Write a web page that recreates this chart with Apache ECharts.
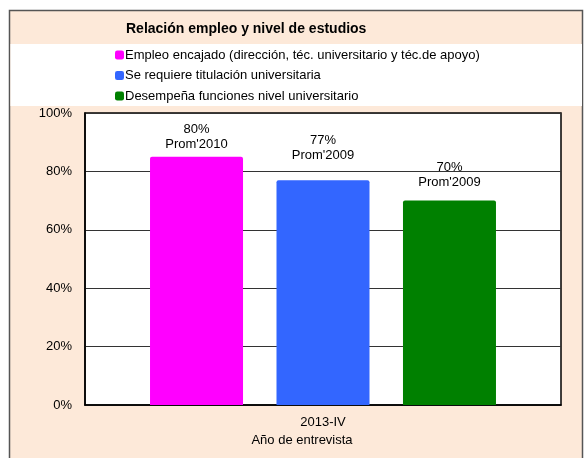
<!DOCTYPE html>
<html>
<head>
<meta charset="utf-8">
<script src="https://cdn.jsdelivr.net/npm/echarts@6/dist/echarts.min.js"></script>
<style>
  html, body { margin: 0; padding: 0; background: #fff; }
  #chart { width: 584px; height: 458px; }
</style>
</head>
<body>
<div id="chart"></div>
<script>
// datos
var categories = ['2013-IV'];
var seriesNames = [
  'Empleo encajado (dirección, téc. universitario y téc.de apoyo)',
  'Se requiere titulación universitaria',
  'Desempeña funciones nivel universitario'
];
var seriesValues = [85, 77, 70];
var barLabels = ['80%\nProm\'2010', '77%\nProm\'2009', '70%\nProm\'2009'];
var labelDistance = [5, 17, 11];
var colors = ['#FF00FF', '#3366FF', '#008000'];
var yTicks = [0, 20, 40, 60, 80, 100];

var peach = '#FDE9D9';
var myChart = echarts.init(document.getElementById('chart'));

var series = seriesNames.map(function (name, i) {
  return {
    name: name,
    type: 'bar',
    barWidth: 93,
    barGap: '36%',
    itemStyle: { color: colors[i], borderRadius: [2, 2, 0, 0] },
    label: {
      show: true,
      position: 'top',
      distance: labelDistance[i],
      formatter: barLabels[i],
      color: '#000',
      fontFamily: 'Liberation Sans',
      fontSize: 13,
      lineHeight: 15
    },
    data: [seriesValues[i]]
  };
});

var option = {
  backgroundColor: '#fff',
  animation: false,
  textStyle: { fontFamily: 'Liberation Sans' },
  graphic: [
    {
      type: 'rect',
      z: -10,
      shape: { x: 9.5, y: 10.5, width: 573, height: 460 },
      style: { fill: peach, stroke: '#555', lineWidth: 1.5 }
    },
    {
      type: 'rect',
      z: -9,
      shape: { x: 10.5, y: 44, width: 571.5, height: 62 },
      style: { fill: '#fff' }
    }
  ],
  title: {
    text: 'Relación empleo y nivel de estudios',
    left: 121,
    top: 17,
    textStyle: { fontSize: 14, fontWeight: 'bold', color: '#000', fontFamily: 'Liberation Sans' }
  },
  legend: {
    orient: 'vertical',
    left: 110,
    top: 43,
    itemWidth: 9,
    itemHeight: 9,
    itemGap: 6.5,
    icon: 'roundRect',
    textStyle: { fontSize: 13, lineHeight: 14, color: '#000', padding: [0, 0, 0, -4] },
    selectedMode: false
  },
  grid: {
    left: 85,
    right: 23,
    top: 113,
    bottom: 53,
    show: true,
    backgroundColor: '#fff',
    borderColor: '#000',
    borderWidth: 1.5,
    containLabel: false
  },
  xAxis: {
    type: 'category',
    data: categories,
    name: 'Año de entrevista',
    nameLocation: 'middle',
    nameGap: 29,
    nameTextStyle: { fontSize: 13, color: '#000', padding: [0, 42, 0, 0] },
    axisLine: { lineStyle: { color: '#000', width: 1.5 } },
    axisTick: { show: false },
    axisLabel: { color: '#000', fontSize: 13, margin: 11 }
  },
  yAxis: {
    type: 'value',
    min: yTicks[0],
    max: yTicks[yTicks.length - 1],
    interval: 20,
    axisLine: { show: true, lineStyle: { color: '#000', width: 1.5 } },
    axisTick: { show: false },
    axisLabel: { color: '#000', fontSize: 13, margin: 13, formatter: '{value}%' },
    splitLine: { show: true, lineStyle: { color: '#333', width: 1 } }
  },
  series: series
};

myChart.setOption(option);
</script>
</body>
</html>
